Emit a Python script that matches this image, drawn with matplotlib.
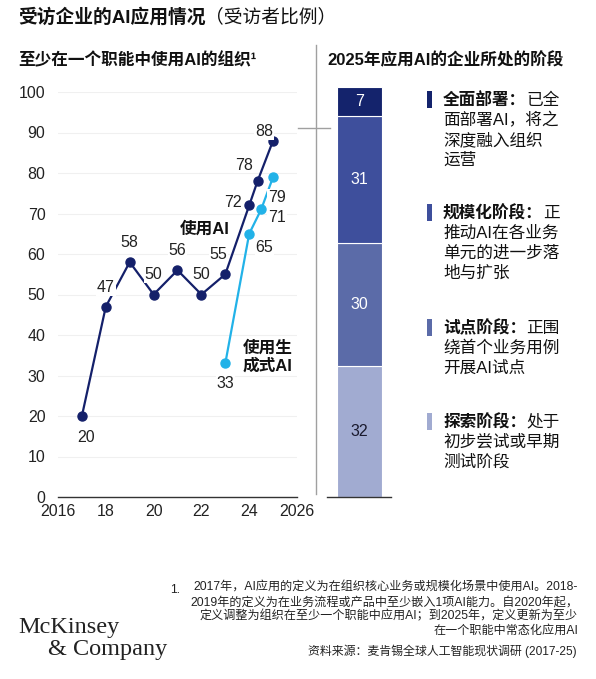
import matplotlib
matplotlib.use("Agg")
import matplotlib.pyplot as plt

plt.rcParams["font.family"] = ["Liberation Sans", "Noto Sans CJK SC"]

# --- data -----------------------------------------------------------------
ai_years = [2017, 2018, 2019, 2020, 2021, 2022, 2023, 2024, 2024.35, 2025]
ai_values = [20, 47, 58, 50, 56, 50, 55, 72, 78, 88]
genai_years = [2023, 2024, 2024.5, 2025]
genai_values = [33, 65, 71, 79]

stage_values = [32, 30, 31, 7]  # bottom -> top
stage_colors = ["#a1abd1", "#5b6ba8", "#3e4f9c", "#14236c"]
stage_text_colors = ["#1a1a2e", "white", "white", "white"]
stage_heads = ["探索阶段：", "试点阶段：", "规模化阶段：", "全面部署："]
stage_lines = [
    ["处于", "初步尝试或早期", "测试阶段"],
    ["正围", "绕首个业务用例", "开展AI试点"],
    ["正", "推动AI在各业务", "单元的进一步落", "地与扩张"],
    ["已全", "面部署AI，将之", "深度融入组织", "运营"],
]

xticks = [2016, 2018, 2020, 2022, 2024, 2026]
xtick_labels = ["2016", "18", "20", "22", "24", "2026"]

footnote = (
    "2017年，AI应用的定义为在组织核心业务或规模化场景中使用AI。2018-\n"
    "2019年的定义为在业务流程或产品中至少嵌入1项AI能力。自2020年起，\n"
    "定义调整为组织在至少一个职能中应用AI；到2025年，定义更新为至少\n"
    "在一个职能中常态化应用AI"
)
source = "资料来源：麦肯锡全球人工智能现状调研 (2017-25)"

DARK = "#14206a"
CYAN = "#22b2e8"
W, H = 596, 679

fig = plt.figure(figsize=(W / 100, H / 100), dpi=100)


def fx(x):
    return x / W


def fy(y):
    return 1 - y / H


renderer = fig.canvas.get_renderer()


def mixed_text(x, y, parts, size):
    """Draw (text, weight) pieces one after another on a line (pixel coords)."""
    cur = x
    for s, weight in parts:
        t = fig.text(fx(cur), fy(y), s, fontsize=size, fontweight=weight,
                     va="center", ha="left", color="#111111")
        cur = t.get_window_extent(renderer=renderer).x1


# --- titles ---------------------------------------------------------------
mixed_text(18, 17, [("受访企业的AI应用情况", "bold"), ("（受访者比例）", "normal")], 13.5)
fig.text(fx(18), fy(60), "至少在一个职能中使用AI的组织¹", fontsize=12,
         fontweight="bold", va="center", color="#111111")
fig.text(fx(327), fy(60), "2025年应用AI的企业所处的阶段", fontsize=12,
         fontweight="bold", va="center", color="#111111")

# --- line chart -------------------------------------------------------------
ax = fig.add_axes([fx(58), fy(497), (297 - 58) / W, (497 - 92) / H])
ax.set_xlim(2016, 2026)
ax.set_ylim(0, 100)
ax.set_yticks(range(0, 101, 10))
ax.set_xticks(xticks)
ax.set_xticklabels(xtick_labels)
ax.tick_params(length=0, labelsize=11.5, colors="#222222")
ax.tick_params(axis="y", pad=9)
ax.tick_params(axis="x", pad=5)
for s in ["top", "right", "left"]:
    ax.spines[s].set_visible(False)
ax.spines["bottom"].set_color("#333333")
ax.spines["bottom"].set_linewidth(1.0)
ax.grid(axis="y", color="#f0f0f0", linewidth=0.8)
ax.set_axisbelow(True)

ax.plot(ai_years, ai_values, color=DARK, lw=1.6, marker="o", ms=6.5, zorder=3)
ax.plot(genai_years, genai_values, color=CYAN, lw=1.6, marker="o", ms=6.5, zorder=3)

# label offsets in pixels (dx, dy up)
ai_offsets = [(4, -21), (0, 19), (0, 20), (0, 20), (0, 20), (0, 20),
              (-7, 20), (-16, 3), (-14, 16), (-9, 9)]
genai_offsets = [(0, -20), (15, -14), (16, -8), (4, -20)]
for xs, ys, offs in [(ai_years, ai_values, ai_offsets),
                     (genai_years, genai_values, genai_offsets)]:
    for x, y, (dx, dy) in zip(xs, ys, offs):
        ax.annotate(str(y), (x, y), xytext=(dx * 0.72, dy * 0.72),
                    textcoords="offset points", ha="center", va="center",
                    fontsize=11.5, color="#222222", zorder=4,
                    bbox=dict(boxstyle="square,pad=0.05", fc="white", ec="none"))

fig.text(fx(205), fy(229), "使用AI", fontsize=12, fontweight="bold",
         ha="center", va="center", color="#111111")
fig.text(fx(243), fy(357), "使用生\n成式AI", fontsize=12, fontweight="bold",
         ha="left", va="center", color="#111111", linespacing=1.15)

# --- separator ----------------------------------------------------------------
fig.add_artist(plt.Line2D([fx(316), fx(316)], [fy(45), fy(494)],
                          color="#a0a0a0", lw=1.0))
fig.add_artist(plt.Line2D([fx(298), fx(330)], [fy(128), fy(128)],
                          color="#a0a0a0", lw=1.0))

# --- stacked bar --------------------------------------------------------------
bx = fig.add_axes([fx(327), fy(497), 64 / W, (497 - 87) / H])
bx.set_xlim(0, 64)
bx.set_ylim(0, 100)
bx.axis("off")
bottom = 0
for v, c, tc in zip(stage_values, stage_colors, stage_text_colors):
    bx.bar(10, v, width=45, bottom=bottom, align="edge", color=c,
           edgecolor="white", linewidth=0.8)
    bx.text(32.5, bottom + v / 2, str(v), ha="center", va="center",
            fontsize=11.5, color=tc)
    bottom += v
bx.plot([0, 64], [0, 0], color="#333333", lw=1.0, clip_on=False)

# --- stage descriptions ------------------------------------------------------
first_line_y = [422, 328, 213, 100]
for head, lines, c, y0 in zip(stage_heads, stage_lines, stage_colors, first_line_y):
    fig.add_artist(plt.Rectangle((fx(427), fy(y0 + 8)), 5 / W, 17 / H,
                                 color=c, lw=0))
    mixed_text(443, y0, [(head, "bold"), (lines[0], "normal")], 12)
    for i, ln in enumerate(lines[1:], start=1):
        fig.text(fx(443), fy(y0 + 20 * i), ln, fontsize=12, va="center",
                 color="#111111")

# --- footer -----------------------------------------------------------------------
fig.text(fx(170), fy(590), "1.", fontsize=8.7, ha="left", va="center",
         color="#222222")
fig.text(fx(578), fy(582), footnote, fontsize=8.7, ha="right", va="top",
         multialignment="right", linespacing=1.25, color="#222222")
fig.text(fx(577), fy(651), source, fontsize=8.6, ha="right", va="center",
         color="#222222")
fig.text(fx(18), fy(628), "McKinsey", fontsize=17.5, family="Liberation Serif",
         va="center", color="#222222")
fig.text(fx(48), fy(650), "& Company", fontsize=17.5, family="Liberation Serif",
         va="center", color="#222222")

fig.savefig("out.png", dpi=100)
